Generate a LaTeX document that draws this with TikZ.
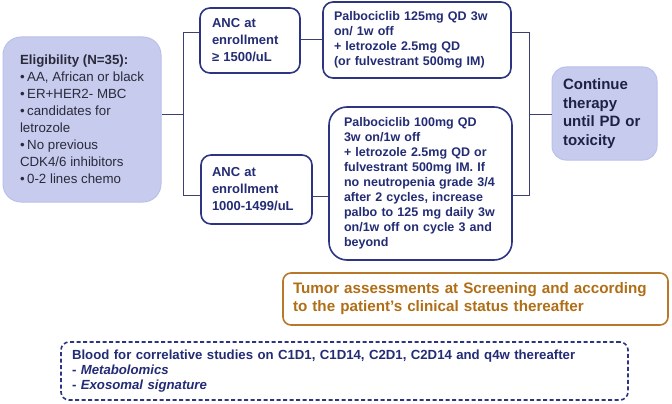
\documentclass[tikz,border=0pt]{standalone}
\usepackage{fontspec}
\setmainfont{Liberation Sans}
\definecolor{navy}{HTML}{2D3582}
\definecolor{navytext}{HTML}{232C74}
\definecolor{lav}{HTML}{C7CCEF}
\definecolor{lavedge}{HTML}{BAC0EA}
\definecolor{elitext}{HTML}{2A2A3A}
\definecolor{conttext}{HTML}{1E2242}
\definecolor{ochre}{HTML}{B8782A}
\definecolor{ochretext}{HTML}{B06E16}
\definecolor{connc}{HTML}{3C4070}
\newcommand{\bul}{\textbullet\hspace{2.5pt}}
\tikzset{
  navybox/.style={draw=navy, line width=1.6pt, rounded corners=10pt, fill=white,
    text=navytext, align=left, inner ysep=0pt, font=\bfseries},
  lavbox/.style={draw=lavedge, line width=1pt, fill=lav, align=left, inner ysep=0pt},
  conn/.style={draw=connc, line width=1pt},
}
\begin{document}
\begin{tikzpicture}[x=1pt,y=-1pt]
\useasboundingbox (0,0) rectangle (672,404);

\node[lavbox, rounded corners=18pt, minimum width=158, minimum height=165,
  text=elitext, font=\fontsize{13.3}{17}\selectfont] (elig) at (82,119.5)
  {\textbf{Eligibility (N=35):}\\
   \bul AA, African or black\\
   \bul ER+HER2- MBC\\
   \bul candidates for\\
   letrozole\\
   \bul No previous\\
   CDK4/6 inhibitors\\
   \bul 0-2 lines chemo};

\node[navybox, minimum width=100, minimum height=65, text width=76pt, inner xsep=12pt,
  font=\bfseries\fontsize{13}{17}\selectfont] (anc1) at (250,40.5)
  {ANC at\\ enrollment\\ ≥ 1500/uL};

\node[navybox, minimum width=111, minimum height=69, text width=89pt, inner xsep=11pt,
  font=\bfseries\fontsize{13}{17}\selectfont] (anc2) at (256.5,189.5)
  {ANC at\\ enrollment\\ 1000-1499/uL};

\node[navybox, minimum width=188, minimum height=76, text width=166pt, inner xsep=11pt,
  font=\bfseries\fontsize{12.5}{15}\selectfont] (palbo1) at (417,40)
  {Palbociclib 125mg QD 3w\\ on/ 1w off\\ + letrozole 2.5mg QD\\ (or fulvestrant 500mg IM)};

\node[navybox, rounded corners=18pt, minimum width=183, minimum height=153, text width=153pt, inner xsep=15pt,
  font=\bfseries\fontsize{12.5}{15}\selectfont] (palbo2) at (420.5,183.5)
  {Palbociclib 100mg QD\\ 3w on/1w off\\ + letrozole 2.5mg QD or\\ fulvestrant 500mg IM. If\\
   no neutropenia grade 3/4\\ after 2 cycles, increase\\ palbo to 125 mg daily 3w\\
   on/1w off on cycle 3 and\\ beyond};

\node[lavbox, rounded corners=14pt, minimum width=105, minimum height=93, text width=83pt,
  inner xsep=11pt, text=conttext, font=\bfseries\fontsize{15}{18.5}\selectfont] (cont) at (604.5,113.5)
  {Continue\\ therapy\\ until PD or\\ toxicity};

\node[draw=ochre, line width=1.6pt, rounded corners=8pt, fill=white, align=left,
  minimum width=385, minimum height=52, text width=365pt, inner xsep=10pt, inner ysep=0pt,
  text=ochretext, font=\bfseries\fontsize{15.2}{18}\selectfont] (tumor) at (475.5,299)
  {Tumor assessments at Screening and according\\ to the patient’s clinical status thereafter};

\node[draw=navy, line width=1.6pt, dashed, dash pattern=on 4pt off 2.5pt, rounded corners=8pt, fill=white, align=left,
  minimum width=567, minimum height=58, text width=545pt, inner xsep=11pt, inner ysep=0pt,
  text=navytext, font=\bfseries\fontsize{13.2}{15}\selectfont] (blood) at (344.5,371)
  {Blood for correlative studies on C1D1, C1D14, C2D1, C2D14 and q4w thereafter\\
   - \textit{Metabolomics}\\
   - \textit{Exosomal signature}};

% connectors
\coordinate (jL) at (183,114);
\coordinate (jLt) at (183,33);
\coordinate (jLb) at (183,195);
\coordinate (m2) at (320,196);
\coordinate (jR) at (529,114);
\coordinate (jRt) at (529,33);
\coordinate (jRb) at (529,195);

\draw[conn] (elig.east |- jL) -- (jL);
\draw[conn] (anc1.west |- jLt) -- (jLt) -- (jLb) -- (anc2.west |- jLb);
\draw[conn] (anc1.east |- palbo1.west) -- (palbo1.west);
\draw[conn] (anc2.east |- m2) -- (palbo2.west |- m2);
\draw[conn] (palbo1.east |- jRt) -- (jRt) -- (jRb) -- (palbo2.east |- jRb);
\draw[conn] (jR) -- (cont.west |- jR);
\end{tikzpicture}
\end{document}
